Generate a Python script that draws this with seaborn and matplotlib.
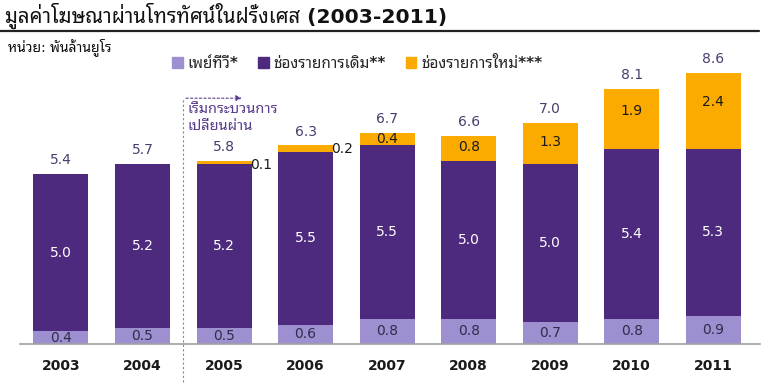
import numpy as np
import pandas as pd
import seaborn as sns
import matplotlib
matplotlib.use("Agg")
import matplotlib.pyplot as plt
from matplotlib import font_manager
from matplotlib.ft2font import FT2Font
from matplotlib.patches import Patch

years = ["2003", "2004", "2005", "2006", "2007", "2008", "2009", "2010", "2011"]
paytv = [0.4, 0.5, 0.5, 0.6, 0.8, 0.8, 0.7, 0.8, 0.9]
old_ch = [5.0, 5.2, 5.2, 5.5, 5.5, 5.0, 5.0, 5.4, 5.3]
new_ch = [0.0, 0.0, 0.1, 0.2, 0.4, 0.8, 1.3, 1.9, 2.4]
totals = [5.4, 5.7, 5.8, 6.3, 6.7, 6.6, 7.0, 8.1, 8.6]
series_names = ["เพย์ทีวี*", "ช่องรายการเดิม**", "ช่องรายการใหม่***"]
title_text = "มูลค่าโฆษณาผ่านโทรทัศน์ในฝรั่งเศส (2003-2011)"
unit_text = "หน่วย: พันล้านยูโร"
note_text = "เริ่มกระบวนการ\nเปลี่ยนผ่าน"

# find a font with Thai glyphs
thai_family = None
for fe in font_manager.fontManager.ttflist:
    try:
        cm = FT2Font(fe.fname).get_charmap()
        if 0x0E21 in cm and 0x0E48 in cm:
            thai_family = fe.name
            if "Tahoma" in fe.name or "Noto Sans Thai" in fe.name:
                break
    except Exception:
        pass

sns.set_theme(style="white")
fams = ["DejaVu Sans"] + ([thai_family] if thai_family else [])
plt.rcParams["font.family"] = fams

c_light = "#9d8fd0"
c_dark = "#4d2a7e"
c_orange = "#fbab00"

df = pd.DataFrame({"year": years, "paytv": paytv, "old": old_ch, "new": new_ch})
df["lvl2"] = df["paytv"] + df["old"]
df["lvl3"] = df["lvl2"] + df["new"]

fig = plt.figure(figsize=(7.68, 3.83), dpi=100)
ax = fig.add_axes([0.026, 0.102, 0.964, 0.765])

w = 0.675
sns.barplot(data=df, x="year", y="lvl3", color=c_orange, width=w, ax=ax, saturation=1, linewidth=0)
sns.barplot(data=df, x="year", y="lvl2", color=c_dark, width=w, ax=ax, saturation=1, linewidth=0)
sns.barplot(data=df, x="year", y="paytv", color=c_light, width=w, ax=ax, saturation=1, linewidth=0)

ax.set_xlim(-0.503, 8.577)
ax.set_ylim(0, 9.3)
ax.set_xlabel("")
ax.set_ylabel("")
ax.set_yticks([])
for s in ["top", "right", "left"]:
    ax.spines[s].set_visible(False)
ax.spines["bottom"].set_color("#a0a0a0")
ax.spines["bottom"].set_linewidth(1.2)
ax.tick_params(axis="x", length=0, pad=11)
for lab in ax.get_xticklabels():
    lab.set_fontweight("bold")
    lab.set_fontsize(10)
    lab.set_color("#1a1a1a")

for i in range(len(years)):
    ax.text(i, paytv[i] / 2, f"{paytv[i]:.1f}", ha="center", va="center", fontsize=10, color="#2e2e4a")
    ax.text(i, paytv[i] + old_ch[i] / 2, f"{old_ch[i]:.1f}", ha="center", va="center", fontsize=10, color="white")
    top = paytv[i] + old_ch[i] + new_ch[i]
    if new_ch[i] >= 0.4:
        if new_ch[i] < 0.6:
            ax.text(i, top - 0.2, f"{new_ch[i]:.1f}", ha="center", va="center", fontsize=10, color="#1a1a1a")
        else:
            ax.text(i, paytv[i] + old_ch[i] + new_ch[i] * 0.55 + (0.15 if new_ch[i] > 1.5 else 0), f"{new_ch[i]:.1f}",
                    ha="center", va="center", fontsize=10, color="#1a1a1a")
    elif new_ch[i] > 0:
        ax.text(i + w / 2 - 0.02, top - 0.12, f"{new_ch[i]:.1f}", ha="left", va="center", fontsize=10, color="#1a1a1a")
    ax.text(i, top + 0.22, f"{totals[i]:.1f}", ha="center", va="bottom", fontsize=10, color="#4a3d6e")

# transition marker
ax.plot([1.5, 1.5], [-1.2, 7.8], ls=(0, (2, 2)), color="#8a8a8a", lw=0.8, clip_on=False)
ax.annotate("", xy=(2.25, 7.8), xytext=(1.5, 7.8),
            arrowprops=dict(arrowstyle="-|>", color="#5a3d8a", lw=0.8, ls=(0, (2, 2)), mutation_scale=8))
ax.text(1.55, 7.7, note_text, ha="left", va="top", fontsize=10.5, color="#5a3d8a", linespacing=1.1)

# title and unit
fig.text(0.006, 0.958, title_text, ha="left", va="center", fontsize=14.6, fontweight="bold", color="#111111")
fig.add_artist(plt.Line2D([0.0, 0.988], [0.918, 0.918], color="#222222", lw=1.6, transform=fig.transFigure))
fig.text(0.010, 0.878, unit_text, ha="left", va="center", fontsize=10, color="#111111")

# legend
handles = [Patch(color=c_light), Patch(color=c_dark), Patch(color=c_orange)]
fig.legend(handles, series_names, loc="center", bbox_to_anchor=(0.465, 0.835), ncol=3, frameon=False,
           handlelength=0.7, handleheight=0.7, handletextpad=0.3, columnspacing=1.3,
           prop={"family": fams, "weight": "bold", "size": 11})

fig.savefig("out.png", dpi=100)
